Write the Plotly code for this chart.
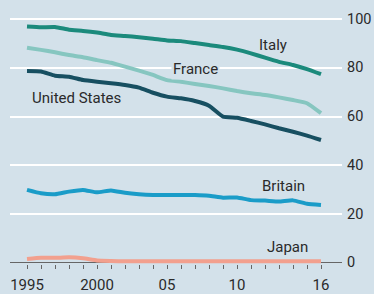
import plotly.graph_objects as go

years = list(range(1995, 2017))
italy = [97.0, 96.7, 96.8, 95.7, 95.2, 94.5, 93.5, 93.1, 92.6, 92.0, 91.3,
         91.0, 90.2, 89.4, 88.6, 87.5, 86.0, 84.2, 82.5, 81.2, 79.5, 77.4]
france = [88.3, 87.4, 86.4, 85.3, 84.4, 83.2, 82.1, 80.5, 78.9, 77.1, 75.0,
          74.3, 73.4, 72.6, 71.6, 70.5, 69.6, 68.9, 67.9, 66.8, 65.5, 61.4]
united_states = [78.7, 78.5, 76.8, 76.4, 75.0, 74.3, 73.7, 73.0, 71.9, 69.8, 68.2,
                 67.5, 66.4, 64.5, 60.0, 59.5, 58.2, 56.8, 55.2, 53.8, 52.2, 50.4]
britain = [29.9, 28.5, 28.1, 29.2, 29.9, 28.9, 29.7, 28.7, 28.1, 27.8, 27.8,
           27.8, 27.8, 27.5, 26.7, 26.8, 25.7, 25.5, 25.1, 25.6, 24.2, 23.7]
japan = [1.5, 2.0, 2.0, 2.2, 1.8, 0.9, 0.7, 0.6, 0.6, 0.6, 0.6,
         0.6, 0.6, 0.6, 0.6, 0.6, 0.6, 0.6, 0.6, 0.6, 0.6, 0.6]

x_labels = {1995: "1995", 2000: "2000", 2005: "05", 2010: "10", 2016: "16"}
y_ticks = [0, 20, 40, 60, 80, 100]

BG = "#d3e1ea"
FONT = "Roboto"
TXT = "#2a2a2a"

series = [
    ("Japan", japan, "#f2a08e"),
    ("Britain", britain, "#1a9cc8"),
    ("United States", united_states, "#174f61"),
    ("France", france, "#86c6c0"),
    ("Italy", italy, "#1b8a7c"),
]

fig = go.Figure()
for name, vals, col in series:
    fig.add_trace(go.Scatter(x=years, y=vals, mode="lines", name=name,
                             line=dict(color=col, width=4, shape="spline", smoothing=0.4),
                             showlegend=False, hoverinfo="skip"))

labels = [
    ("Italy", 2012.6, 89.3, None),
    ("France", 2007.0, 79.6, BG),
    ("United States", 1998.5, 67.6, None),
    ("Britain", 2013.3, 31.4, None),
    ("Japan", 2013.6, 6.6, None),
]
for text, lx, ly, bg in labels:
    fig.add_annotation(x=lx, y=ly, text=text, showarrow=False,
                       font=dict(family=FONT, size=15, color=TXT),
                       bgcolor=bg if bg else "rgba(0,0,0,0)", borderpad=1)

for v in y_ticks:
    fig.add_annotation(x=1, xref="paper", y=v, yref="y", text=str(v),
                       showarrow=False, xanchor="left", xshift=3,
                       font=dict(family=FONT, size=14.5, color=TXT))

fig.update_layout(
    width=374, height=294,
    margin=dict(l=10, r=32, t=10, b=30, autoexpand=False),
    paper_bgcolor=BG, plot_bgcolor=BG,
    font=dict(family=FONT, size=15, color=TXT),
)
fig.update_xaxes(
    range=[1993.786, 2017.5],
    tickvals=years,
    ticktext=[x_labels.get(y, "") for y in years],
    ticks="outside", ticklen=4, tickwidth=1, tickcolor="#666666",
    showgrid=False, showline=False, zeroline=False,
    ticklabelstandoff=3, automargin=False,
    tickfont=dict(family=FONT, size=15, color=TXT),
)
fig.update_yaxes(
    range=[-0.53, 103.78],
    side="right",
    tickvals=y_ticks,
    showticklabels=False,
    showgrid=True, gridcolor="#ffffff", gridwidth=2,
    zeroline=True, zerolinecolor="#666666", zerolinewidth=1.5,
    ticks="", automargin=False,
)

fig.write_html(
    "out.html",
    config={"displayModeBar": False, "staticPlot": True},
    post_script="document.body.style.margin='0';document.body.style.background='" + BG + "';",
)
